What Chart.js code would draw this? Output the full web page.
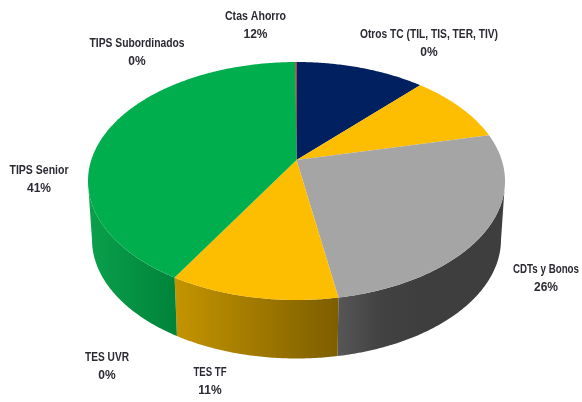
<!doctype html>
<html lang="es">

<head>
  <meta charset="UTF-8" />
  <script src="https://cdn.jsdelivr.net/npm/chart.js@4/dist/chart.umd.js"></script>
  <style>
    html, body { margin: 0; padding: 0; background: #fff; }
    #chart { display: block; filter: blur(0.7px); }
  </style>
</head>

<body>
  <canvas id="chart" width="582" height="402"></canvas>
  <script>
    // data, clockwise from the top
    const categories = ['Ctas Ahorro', 'Otros TC (TIL, TIS, TER, TIV)', '', 'CDTs y Bonos', 'TES TF', 'TES UVR', 'TIPS Senior', 'TIPS Subordinados'];
    const values = [11.9, 0, 9.5, 25.9, 11.1, 0, 41.5, 0.1];
    const percentLabels = ['12%', '0%', '', '26%', '11%', '0%', '41%', '0%'];

    // styles
    const topColors = ['#002060', '#7f7f7f', '#fdbd00', '#a5a5a5', '#fdbd00', '#4472c4', '#00ae4e', '#c00000'];
    const wallColors = [null, null, null, ['#565656', '#424242', '#3e3e3e', '#3e3e3e', '#3e3e3e'], ['#c49400', '#7d5e00'], null, ['#0aa04c', '#00843a'], null];

    // label centres, x / first line y
    const labelPos = [[255.5, 17], [429, 35], null, [546, 270], [210, 373], [107, 358], [39, 171], [137, 44]];
    const labelWidth = [61, 138, 0, 66, 33, 44, 59, 95];

    // projection of the pie disc
    const cx = 296.5, cy = 181, rx = 208.5, ry = 119, tilt = 0.176;
    const bottomCy = 239.5, bottomRx = 204.5;

    function project(angle) {
      const phi = angle + Math.PI / 2;
      const x = Math.sin(phi), y = -Math.cos(phi);
      const d = 1 - tilt * y;
      return { x: x * Math.sqrt(1 - tilt * tilt) / d, y: (y - tilt) / d };
    }

    function sample(start, end) {
      const n = Math.max(2, Math.ceil((end - start) / 0.01));
      const pts = [];
      for (let i = 0; i <= n; i++) {
        pts.push(project(start + (end - start) * i / n));
      }
      return pts;
    }

    const pie3d = {
      id: 'pie3d',
      beforeDatasetDraw: function (chart) {
        const ctx = chart.ctx;
        const arcs = chart.getDatasetMeta(0).data;

        // side wall
        arcs.forEach(function (arc, i) {
          if (!wallColors[i]) return;
          const pts = sample(arc.startAngle, arc.endAngle).filter(function (p) { return p.y >= 0; });
          if (pts.length < 2) return;
          const xs = pts.map(function (p) { return cx + p.x * rx; });
          const grad = ctx.createLinearGradient(Math.min.apply(null, xs), 0, Math.max.apply(null, xs), 0);
          wallColors[i].forEach(function (c, k) {
            grad.addColorStop(k / (wallColors[i].length - 1), c);
          });
          ctx.beginPath();
          pts.forEach(function (p, k) {
            const px = cx + p.x * rx, py = cy + p.y * ry;
            if (k === 0) ctx.moveTo(px, py); else ctx.lineTo(px, py);
          });
          pts.slice().reverse().forEach(function (p) {
            ctx.lineTo(cx + p.x * bottomRx, bottomCy + p.y * ry);
          });
          ctx.closePath();
          ctx.fillStyle = grad;
          ctx.fill();
        });

        // top face
        arcs.forEach(function (arc, i) {
          if (arc.endAngle - arc.startAngle <= 0) return;
          ctx.beginPath();
          ctx.moveTo(cx, cy - tilt * ry);
          sample(arc.startAngle, arc.endAngle).forEach(function (p) {
            ctx.lineTo(cx + p.x * rx, cy + p.y * ry);
          });
          ctx.closePath();
          ctx.fillStyle = topColors[i];
          ctx.fill();
        });
        return false;
      },
      afterDraw: function (chart) {
        const ctx = chart.ctx;
        ctx.save();
        ctx.font = 'bold 12px "Liberation Sans Narrow", "Liberation Sans", sans-serif';
        ctx.fillStyle = '#2a2a33';
        ctx.textAlign = 'center';
        ctx.textBaseline = 'middle';
        categories.forEach(function (name, i) {
          if (!labelPos[i]) return;
          const pos = labelPos[i];
          ctx.fillText(name, pos[0], pos[1], labelWidth[i]);
          ctx.fillText(percentLabels[i], pos[0], pos[1] + 18);
        });
        ctx.restore();
      }
    };

    new Chart(document.getElementById('chart'), {
      type: 'pie',
      data: {
        labels: categories,
        datasets: [{ data: values, backgroundColor: topColors, borderWidth: 0 }]
      },
      options: {
        responsive: false,
        animation: false,
        plugins: { legend: { display: false }, tooltip: { enabled: false } }
      },
      plugins: [pie3d]
    });
  </script>
</body>

</html>
